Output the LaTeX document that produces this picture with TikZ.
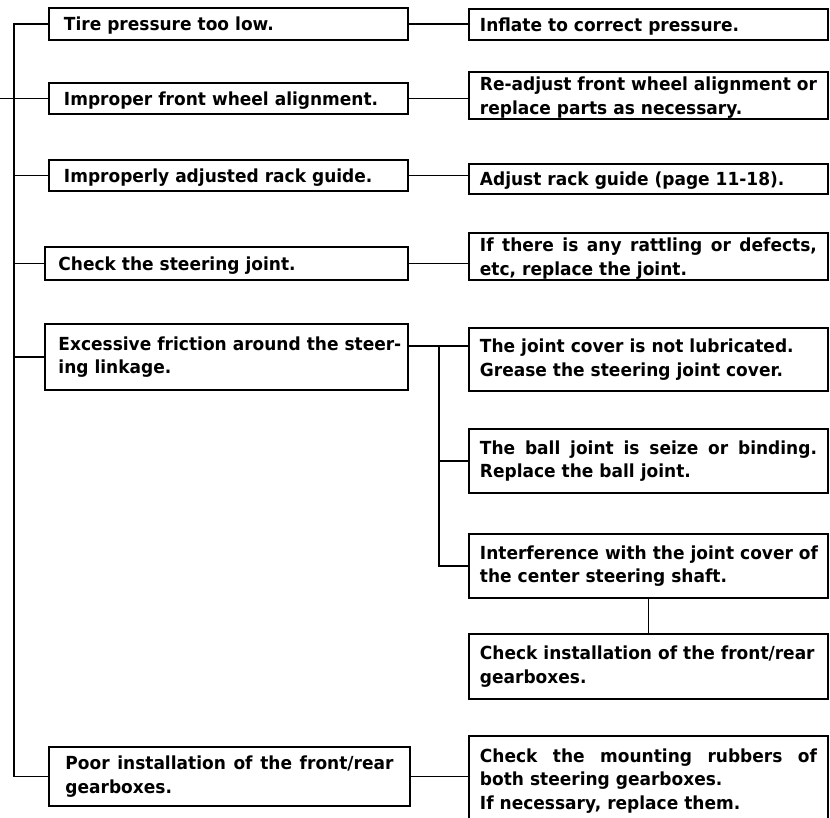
\documentclass[tikz,border=0pt]{standalone}
\usepackage{fontspec}
\setmainfont{DejaVu Sans}[BoldFeatures={FakeStretch=0.945}]
\newcommand\myboxfont{\bfseries\fontsize{18}{23.5}\selectfont}
\newcommand\just[1]{\hbox to \hsize{\spaceskip=0.33em plus 1fil\xspaceskip=0.33em plus 1fil #1}}
\newcommand\oneline[1]{\mbox{#1}}
\tikzset{
  box/.style={draw, line width=1.9pt, anchor=north west, inner ysep=0pt, align=left, font=\myboxfont},
  lbox/.style={box, inner xsep=15pt, text width=329pt},
  lwbox/.style={box, inner xsep=13.5pt, text width=336pt},
  rbox/.style={box, inner xsep=11pt, text width=337pt},
  low/.style={text depth=0pt},
  lowtwo/.style={text depth=23.5pt},
  conn/.style={line width=1.5pt},
}
\begin{document}
\begin{tikzpicture}[x=1pt,y=-1pt]
\clip (0,0) rectangle (830,817);
% left column
\node[lbox, low, minimum height=32pt] (L1) at (48,7) {\oneline{Tire pressure too low.}};
\node[lbox, low, minimum height=31pt] (L2) at (48,82) {\oneline{Improper front wheel alignment.}};
\node[lbox, low, minimum height=31pt] (L3) at (48,159) {\oneline{Improperly adjusted rack guide.}};
\node[lwbox, low, minimum height=33pt] (L4) at (44,246) {\oneline{Check the steering joint.}};
\node[lwbox, minimum height=66pt] (L5) at (44,323) {\oneline{Excessive friction around the steer-}\\\oneline{ing linkage.}};
\node[box, inner xsep=16.5pt, text width=328pt, minimum height=59pt] (L6) at (48,746) {\just{Poor installation of the front/rear}\\\oneline{gearboxes.}};
% right column
\node[rbox, low, minimum height=31pt] (R1) at (468,8) {\oneline{Inflate to correct pressure.}};
\node[rbox, lowtwo, minimum height=47pt] (R2) at (468,71) {\oneline{Re-adjust front wheel alignment or}\\\oneline{replace parts as necessary.}};
\node[rbox, low, minimum height=30pt] (R3) at (468,163) {\oneline{Adjust rack guide (page 11-18).}};
\node[rbox, lowtwo, minimum height=47pt] (R4) at (468,232) {\just{If there is any rattling or defects,}\\\oneline{etc, replace the joint.}};
\node[rbox, minimum height=63pt] (R5) at (468,327) {\oneline{The joint cover is not lubricated.}\\\oneline{Grease the steering joint cover.}};
\node[rbox, minimum height=64pt] (R6) at (468,428) {\just{The ball joint is seize or binding.}\\\oneline{Replace the ball joint.}};
\node[rbox, minimum height=64pt] (R7) at (468,533) {\oneline{Interference with the joint cover of}\\\oneline{the center steering shaft.}};
\node[rbox, minimum height=65pt] (R8) at (468,633) {\oneline{Check installation of the front/rear}\\\oneline{gearboxes.}};
\node[rbox, minimum height=90pt] (R9) at (468,735) {\just{Check the mounting rubbers of}\\\oneline{both steering gearboxes.}\\\oneline{If necessary, replace them.}};
% trunk on the left
\coordinate (in) at (0,97);
\draw[conn] (L1.west) -- ++(-34,0) coordinate (t1) -- (t1 |- L6.west) -- (L6.west);
\foreach \n in {L2,L3,L4,L5} \draw[conn] (t1 |- \n.west) -- (\n.west);
\draw[conn] (in |- L2.west) -- (t1 |- L2.west);
% left to right
\draw[conn] (L1.east) -- (R1.west |- L1.east);
\draw[conn] (L2.east) -- (R2.west |- L2.east);
\draw[conn] (L3.east) -- (R3.west |- L3.east);
\draw[conn] (L4.east) -- (R4.west |- L4.east);
\draw[conn] (L6.east) -- (R9.west |- L6.east);
% friction branch
\coordinate (b) at (439,346);
\draw[conn] (L5.east |- b) -- (R5.west |- b);
\draw[conn] (b) |- (R6.west);
\draw[conn] (b) |- (R7.west);
\draw[conn] (R7.south) -- (R8.north);
\end{tikzpicture}
\end{document}
